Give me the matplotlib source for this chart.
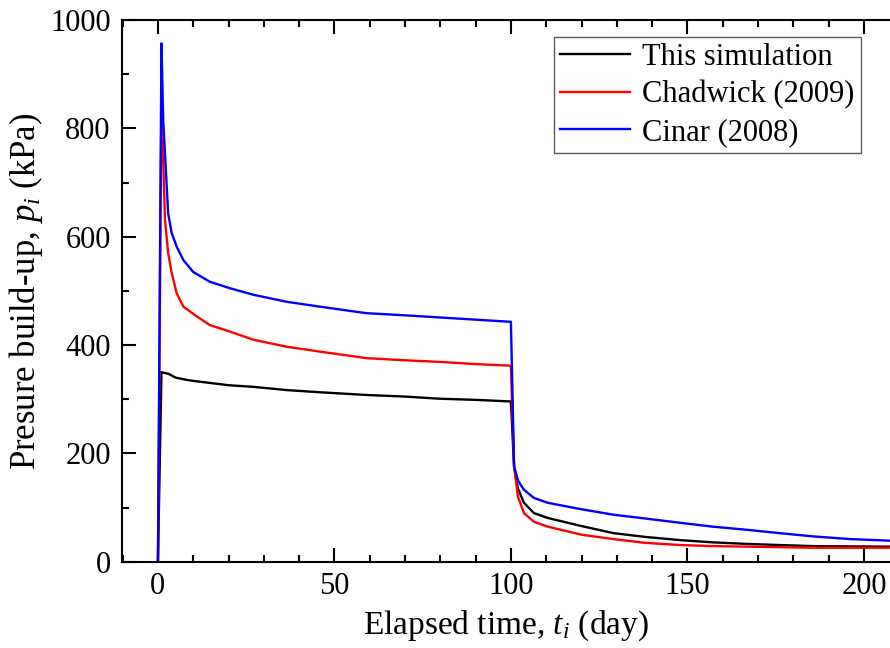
import matplotlib
matplotlib.use("Agg")
import matplotlib.pyplot as plt
from matplotlib.ticker import MultipleLocator

plt.rcParams['font.family'] = ['Liberation Serif', 'DejaVu Serif']
plt.rcParams['mathtext.fontset'] = 'custom'
plt.rcParams['mathtext.rm'] = 'Liberation Serif'
plt.rcParams['mathtext.it'] = 'Liberation Serif:italic'

# elapsed time (day) after shut-in, shared by the three curves
t_after = [100.9, 102, 103.7, 106.5, 110.4, 120, 129, 138, 148, 157, 167, 176, 185.5, 196, 207.4]

# This simulation
t_sim = [0, 1, 3, 5, 8, 10, 15, 20, 27, 36.5, 45.9, 59, 70, 80, 90, 100] + t_after
p_sim = [0, 350, 347, 340, 336, 334, 330, 326, 323, 317, 313, 308, 305, 301, 299, 296,
         176, 135, 109, 90, 81, 66, 53, 46, 40, 36, 33, 31, 29, 28.5, 28]

# Chadwick (2009)
t_chad = [0, 1, 1.5, 2.0, 2.9, 3.9, 5.3, 7.2, 11, 14.7, 20.4, 27, 36.5, 45.9, 59, 70, 80, 90, 100] + t_after
p_chad = [0, 860, 742, 631, 570, 533, 496, 471, 453, 437, 425, 410, 397, 388, 376, 372, 369, 365, 362,
          176, 120, 90, 74, 65, 50, 42, 35, 31, 29, 28, 27, 26, 26, 26]

# Cinar (2008)
t_cinar = [0, 1, 1.5, 2.5, 2.9, 3.9, 5.3, 7.2, 10, 14.7, 20.4, 27, 36.5, 45.9, 59, 70, 80, 90, 100] + t_after
p_cinar = [0, 957, 815, 692, 643, 607, 582, 557, 535, 517, 505, 493, 480, 471, 459, 455, 451, 447, 443,
           176, 150, 133, 118, 109, 97, 87, 80, 72, 65, 59, 53, 47, 42, 39]

fig = plt.figure(figsize=(8.9, 6.48), dpi=100)
ax = fig.add_axes([0.137, 0.133, 0.863, 0.836])

ax.plot(t_sim, p_sim, color='black', lw=1.7, label='This simulation')
ax.plot(t_chad, p_chad, color='red', lw=1.7, label='Chadwick (2009)')
ax.plot(t_cinar, p_cinar, color='blue', lw=1.7, label='Cinar (2008)')

ax.set_xlim(-10.2, 207.4)
ax.set_ylim(0, 1000)
ax.xaxis.set_major_locator(MultipleLocator(50))
ax.xaxis.set_minor_locator(MultipleLocator(10))
ax.yaxis.set_major_locator(MultipleLocator(200))
ax.yaxis.set_minor_locator(MultipleLocator(100))
ax.tick_params(which='both', direction='in', top=True, right=False, labelsize=22, width=1.5)
ax.tick_params(which='major', length=10)
ax.tick_params(which='minor', length=5)
ax.tick_params(axis='y', which='major', pad=8)
ax.tick_params(axis='x', which='major', pad=7)
ax.spines['right'].set_visible(False)
for s in ['left', 'bottom', 'top']:
    ax.spines[s].set_linewidth(1.5)

ax.set_xlabel('Elapsed time, $t_i$ (day)', fontsize=24, labelpad=6)
ax.set_ylabel('Presure build-up, $p_i$ (kPa)', fontsize=25, labelpad=4)

leg = ax.legend(loc='upper right', bbox_to_anchor=(0.962, 0.969), fontsize=22, frameon=True,
                fancybox=False, edgecolor='#333333', handlelength=2.3, borderpad=0.2,
                labelspacing=0.27, handletextpad=0.4, borderaxespad=0)
leg.get_frame().set_linewidth(1.0)

fig.savefig('out.png', dpi=100)
